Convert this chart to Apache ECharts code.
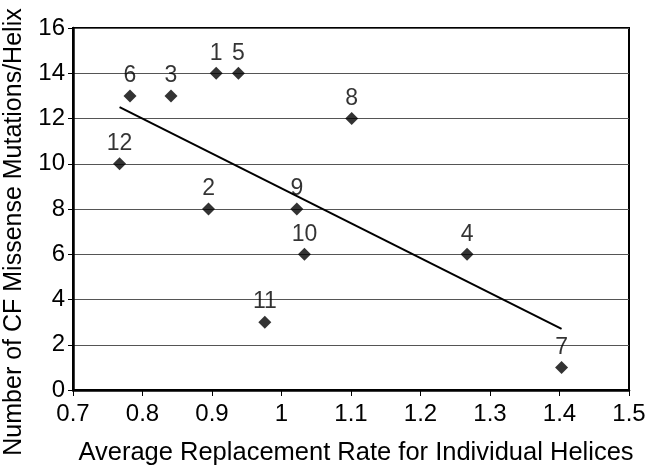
<!DOCTYPE html>
<html>
<head>
<meta charset="utf-8">
<script src="https://cdn.jsdelivr.net/npm/echarts@6/dist/echarts.min.js"></script>
<style>html,body{margin:0;padding:0;background:#fff}#c{width:646px;height:465px}</style>
</head>
<body>
<div id="c"></div>
<script>
const helixIds = ['1','2','3','4','5','6','7','8','9','10','11','12'];
const replacementRate = [0.906, 0.895, 0.841, 1.267, 0.938, 0.782, 1.403, 1.101, 1.022, 1.033, 0.976, 0.767];
const mutationCount = [14, 8, 13, 6, 14, 13, 1, 12, 8, 6, 3, 10];
const trendX = [0.767, 1.403];
const trendY = [12.5, 2.7];
const xTicks = [0.7, 0.8, 0.9, 1, 1.1, 1.2, 1.3, 1.4, 1.5];
const yTicks = [0, 2, 4, 6, 8, 10, 12, 14, 16];

const font = '"Liberation Sans", Arial, sans-serif';
const chart = echarts.init(document.getElementById('c'), null, {renderer: 'canvas'});
const pts = replacementRate.map((x, i) => ({value: [x, mutationCount[i]], name: helixIds[i]}));
chart.setOption({
  animation: false,
  backgroundColor: '#fff',
  grid: {left: 73, right: 17, top: 28, bottom: 75, show: true, borderColor: '#000', borderWidth: 2,
         backgroundColor: 'transparent', containLabel: false, outerBoundsMode: 'none'},
  xAxis: {
    type: 'value', min: xTicks[0], max: xTicks[xTicks.length - 1], interval: 0.1,
    name: 'Average Replacement Rate for Individual Helices', nameLocation: 'middle', nameGap: 50,
    nameTextStyle: {fontFamily: font, fontSize: 25.5, color: '#000', padding: [0, 0, 0, 10]},
    axisLine: {lineStyle: {color: '#000', width: 2.5}},
    axisTick: {show: true, inside: false, length: 6, lineStyle: {color: '#000', width: 1}},
    axisLabel: {fontFamily: font, fontSize: 24, color: '#000', margin: 12, formatter: v => String(+v.toFixed(1))},
    splitLine: {show: false}
  },
  yAxis: {
    type: 'value', min: yTicks[0], max: yTicks[yTicks.length - 1], interval: 2,
    name: 'Number of CF Missense Mutations/Helix', nameLocation: 'middle', nameGap: 46,
    nameTextStyle: {fontFamily: font, fontSize: 25, color: '#000', padding: [0, 46, 0, 0]},
    axisLine: {show: true, lineStyle: {color: '#000', width: 2.5}},
    axisTick: {show: true, inside: false, length: 5, lineStyle: {color: '#000', width: 1}},
    axisLabel: {fontFamily: font, fontSize: 24, color: '#000', margin: 8},
    splitLine: {show: true, lineStyle: {color: '#555', width: 1}}
  },
  series: [
    {
      type: 'scatter', symbol: 'diamond', symbolSize: 13,
      itemStyle: {color: '#000'},
      data: pts,
      label: {show: true, position: 'top', distance: 2, formatter: p => p.name, fontFamily: font, fontSize: 23, color: '#000'},
      z: 3
    },
    {
      type: 'line', symbol: 'none', silent: true,
      data: trendX.map((x, i) => [x, trendY[i]]),
      lineStyle: {color: '#000', width: 2},
      z: 2
    }
  ]
});
</script>
</body>
</html>
